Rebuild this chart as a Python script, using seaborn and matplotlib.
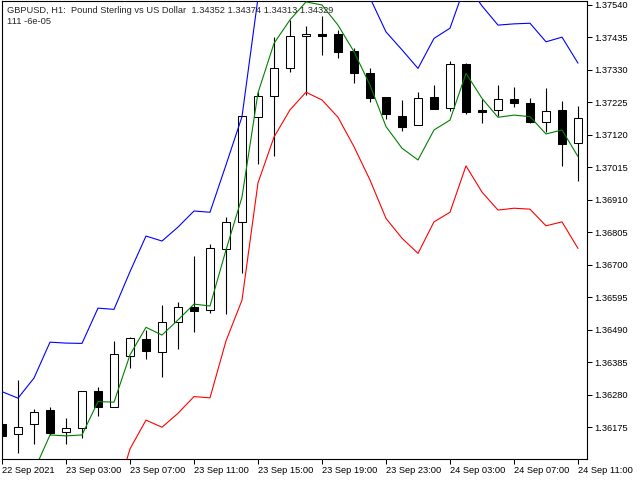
import numpy as np
import pandas as pd
import matplotlib
matplotlib.use("Agg")
import matplotlib.pyplot as plt
import seaborn as sns

# GBPUSD H1 bars, 22 Sep 23:00 .. 24 Sep 11:00
opens = [1.36186, 1.36152, 1.36185, 1.36231, 1.36159, 1.36172, 1.36292, 1.36242, 1.36406, 1.36459,
         1.36419, 1.36516, 1.36564, 1.36553, 1.36752, 1.36838, 1.37179, 1.37245, 1.37335, 1.37440,
         1.37446, 1.37446, 1.37391, 1.37321, 1.37243, 1.37181, 1.37151, 1.37243, 1.37206, 1.37349,
         1.37201, 1.37200, 1.37236, 1.37223, 1.37162, 1.37200, 1.37093]
highs = [1.36186, 1.36328, 1.36234, 1.36241, 1.36206, 1.36292, 1.36304, 1.36454, 1.36467, 1.36489,
         1.36570, 1.36580, 1.36729, 1.36767, 1.36856, 1.37180, 1.37258, 1.37436, 1.37492, 1.37472,
         1.37504, 1.37459, 1.37401, 1.37337, 1.37243, 1.37232, 1.37260, 1.37280, 1.37358, 1.37352,
         1.37235, 1.37281, 1.37275, 1.37238, 1.37272, 1.37230, 1.37213]
lows = [1.36147, 1.36093, 1.36121, 1.36150, 1.36120, 1.36139, 1.36212, 1.36242, 1.36368, 1.36397,
        1.36336, 1.36429, 1.36484, 1.36543, 1.36541, 1.36675, 1.37026, 1.37053, 1.37324, 1.37249,
        1.37378, 1.37370, 1.37289, 1.37227, 1.37172, 1.37133, 1.37151, 1.37203, 1.37198, 1.37189,
        1.37160, 1.37182, 1.37209, 1.37159, 1.37130, 1.37020, 1.36972]
closes = [1.36147, 1.36176, 1.36223, 1.36157, 1.36172, 1.36292, 1.36241, 1.36411, 1.36462, 1.36422,
          1.36514, 1.36563, 1.36552, 1.36753, 1.36838, 1.37180, 1.37245, 1.37335, 1.37440, 1.37445,
          1.37441, 1.37389, 1.37319, 1.37240, 1.37189, 1.37146, 1.37238, 1.37203, 1.37348, 1.37195,
          1.37194, 1.37235, 1.37222, 1.37161, 1.37196, 1.37092, 1.37174]

# indicator lines (values outside the visible window are estimates)
upper = [1.36290, 1.36269, 1.36334, 1.36450, 1.36447, 1.36446, 1.36560, 1.36556, 1.36678, 1.36793,
         1.36777, 1.36822, 1.36874, 1.36870, 1.37023, 1.37179, 1.37563, 1.37721, 1.37782, 1.37847,
         1.37847, 1.37773, 1.37695, 1.37563, 1.37453, 1.37395, 1.37335, 1.37432, 1.37465, 1.37611,
         1.37537, 1.37475, 1.37479, 1.37481, 1.37421, 1.37436, 1.37352]
middle = [1.35988, 1.35972, 1.36034, 1.36150, 1.36147, 1.36150, 1.36258, 1.36256, 1.36409, 1.36498,
          1.36473, 1.36522, 1.36573, 1.36567, 1.36748, 1.36919, 1.37256, 1.37416, 1.37492, 1.37550,
          1.37540, 1.37475, 1.37389, 1.37281, 1.37147, 1.37077, 1.37039, 1.37136, 1.37168, 1.37319,
          1.37238, 1.37177, 1.37184, 1.37179, 1.37123, 1.37136, 1.37050]
lower = [1.35688, 1.35675, 1.35739, 1.35849, 1.35846, 1.35852, 1.35956, 1.35933, 1.36105, 1.36198,
         1.36175, 1.36220, 1.36274, 1.36270, 1.36454, 1.36586, 1.36965, 1.37113, 1.37201, 1.37258,
         1.37233, 1.37177, 1.37082, 1.36974, 1.36850, 1.36786, 1.36737, 1.36839, 1.36870, 1.37020,
         1.36935, 1.36877, 1.36883, 1.36880, 1.36826, 1.36839, 1.36753]

x_labels = ["22 Sep 2021", "23 Sep 03:00", "23 Sep 07:00", "23 Sep 11:00", "23 Sep 15:00",
            "23 Sep 19:00", "23 Sep 23:00", "24 Sep 03:00", "24 Sep 07:00", "24 Sep 11:00"]
y_ticks = [1.36175, 1.36280, 1.36385, 1.36490, 1.36595, 1.36700, 1.36805,
           1.36910, 1.37015, 1.37120, 1.37225, 1.37330, 1.37435, 1.37540]

title_line = "GBPUSD, H1:  Pound Sterling vs US Dollar  1.34352 1.34374 1.34313 1.34329"
info_line = "111 -6e-05"

sns.set_style("white")
plt.rcParams['font.family'] = ['Liberation Sans', 'DejaVu Sans']
FS = 6.7

df = pd.DataFrame({'open': opens, 'high': highs, 'low': lows, 'close': closes,
                   'upper': upper, 'middle': middle, 'lower': lower})
df['bar'] = np.arange(len(df))

fig = plt.figure(figsize=(6.4, 4.8), dpi=100)
ax = fig.add_axes([2 / 640, 21 / 480, 585 / 640, 458 / 480])

# candles: wick first, then body on top
ax.vlines(df['bar'], df['low'], df['high'], color='black', lw=0.8, zorder=2)
up = df['close'] >= df['open']
body_low = np.minimum(df['open'], df['close'])
body_h = (df['close'] - df['open']).abs()
ax.bar(df['bar'], body_h, bottom=body_low, width=0.56,
       color=np.where(up, 'white', 'black'), edgecolor='black', lw=0.75, zorder=3)

# indicator lines
sns.lineplot(data=df, x='bar', y='upper', color='blue', lw=0.8, ax=ax, zorder=4)
sns.lineplot(data=df, x='bar', y='middle', color='green', lw=0.8, ax=ax, zorder=4)
sns.lineplot(data=df, x='bar', y='lower', color='red', lw=0.8, ax=ax, zorder=4)

ax.set_xlim(0, 585 / 16)
ax.set_ylim(1.360723, 1.375529)
ax.set_xlabel('')
ax.set_ylabel('')

ax.set_xticks(np.arange(0, len(df), 4))
ax.set_xticklabels(x_labels, ha='left', fontsize=FS)
ax.set_yticks(y_ticks)
ax.set_yticklabels([f"{v:.5f}" for v in y_ticks], fontsize=FS)
ax.yaxis.tick_right()
ax.tick_params(axis='both', direction='out', length=3.5, width=0.75, color='black',
               labelcolor='black', pad=1.5)
ax.tick_params(axis='x', bottom=True)
ax.tick_params(axis='y', right=True, left=False)

for side in ['left', 'bottom', 'right', 'top']:
    ax.spines[side].set_visible(True)
    ax.spines[side].set_color('black')
    ax.spines[side].set_linewidth(0.8)

fig.text(7 / 640, 1 - 10.5 / 480, title_line, fontsize=FS, va='center', ha='left')
fig.text(7 / 640, 1 - 22 / 480, info_line, fontsize=FS, va='center', ha='left')

fig.savefig('out.png', dpi=100)
